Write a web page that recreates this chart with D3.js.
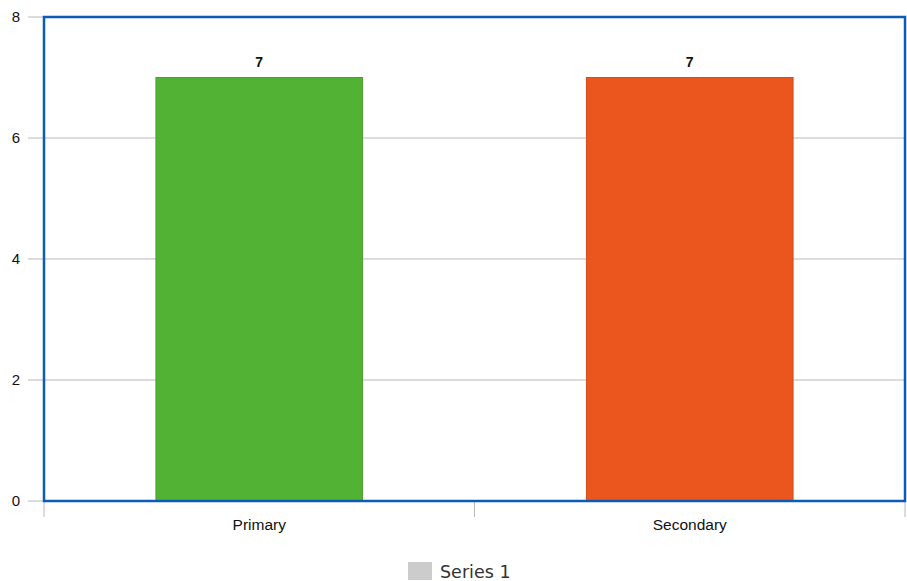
<!DOCTYPE html>
<html>
<head>
<meta charset="utf-8">
<script src="https://cdn.jsdelivr.net/npm/d3@7"></script>
<style>
  html, body { margin: 0; padding: 0; background: #fff; }
  svg { display: block; }
</style>
</head>
<body>
<svg id="chart" width="907" height="581"></svg>
<script>
// Chart data
const categories = ["Primary", "Secondary"];
const values = [7, 7];
const barColors = ["#52b233", "#ea561d"];
const yTicks = [0, 2, 4, 6, 8];
const seriesName = "Series 1";

const svg = d3.select("#chart");
const margin = { left: 44, top: 17, right: 2, bottom: 80 };
const width = 907, height = 581;
const x0 = margin.left, x1 = width - margin.right;
const y0 = height - margin.bottom, y1 = margin.top;

const x = d3.scaleBand().domain(categories).range([x0, x1]).paddingInner(0.52).paddingOuter(0.26);
const y = d3.scaleLinear().domain([0, 8]).range([y0, y1]);

// Horizontal gridlines with short left ticks
svg.append("g")
  .selectAll("line")
  .data(yTicks)
  .join("line")
  .attr("x1", x0 - 16).attr("x2", x1)
  .attr("y1", d => y(d)).attr("y2", d => y(d))
  .attr("stroke", "#b8b8b8").attr("stroke-width", 1);

// Y axis labels
svg.append("g")
  .selectAll("text")
  .data(yTicks)
  .join("text")
  .attr("x", 20).attr("y", d => y(d) + 5)
  .attr("text-anchor", "end")
  .attr("font-family", "Liberation Sans, Arial, sans-serif")
  .attr("font-size", 15).attr("fill", "#111")
  .text(d => d);

// Category separators below the axis
const sepX = [x0, (x0 + x1) / 2, x1];
svg.append("g")
  .selectAll("line")
  .data(sepX)
  .join("line")
  .attr("x1", d => d).attr("x2", d => d)
  .attr("y1", y0).attr("y2", y0 + 16)
  .attr("stroke", "#b8b8b8").attr("stroke-width", 1);

// Bars
svg.append("g")
  .selectAll("rect")
  .data(categories)
  .join("rect")
  .attr("x", d => x(d))
  .attr("y", (d, i) => y(values[i]))
  .attr("width", x.bandwidth())
  .attr("height", (d, i) => y(0) - y(values[i]))
  .attr("fill", (d, i) => barColors[i])
  .attr("stroke", (d, i) => d3.color(barColors[i]).darker(0.3))
  .attr("stroke-width", 1);

// Value labels
svg.append("g")
  .selectAll("text")
  .data(categories)
  .join("text")
  .attr("x", d => x(d) + x.bandwidth() / 2)
  .attr("y", (d, i) => y(values[i]) - 11)
  .attr("text-anchor", "middle")
  .attr("font-family", "Liberation Sans, Arial, sans-serif")
  .attr("font-size", 14).attr("font-weight", "bold").attr("fill", "#111")
  .text((d, i) => values[i]);

// Category labels
svg.append("g")
  .selectAll("text")
  .data(categories)
  .join("text")
  .attr("x", d => x(d) + x.bandwidth() / 2)
  .attr("y", y0 + 29)
  .attr("text-anchor", "middle")
  .attr("font-family", "Liberation Sans, Arial, sans-serif")
  .attr("font-size", 15.5).attr("fill", "#111")
  .text(d => d);

// Plot frame
svg.append("rect")
  .attr("x", x0).attr("y", y1)
  .attr("width", x1 - x0).attr("height", y0 - y1)
  .attr("fill", "none")
  .attr("stroke", "#0b5cb8").attr("stroke-width", 2.5);

// Legend
const legend = svg.append("g").attr("transform", "translate(408,562)");
legend.append("rect")
  .attr("width", 24).attr("height", 18)
  .attr("fill", "#cccccc");
legend.append("text")
  .attr("x", 32).attr("y", 16)
  .attr("font-family", "DejaVu Sans, sans-serif")
  .attr("font-size", 17.5).attr("fill", "#333")
  .text(seriesName);
</script>
</body>
</html>
